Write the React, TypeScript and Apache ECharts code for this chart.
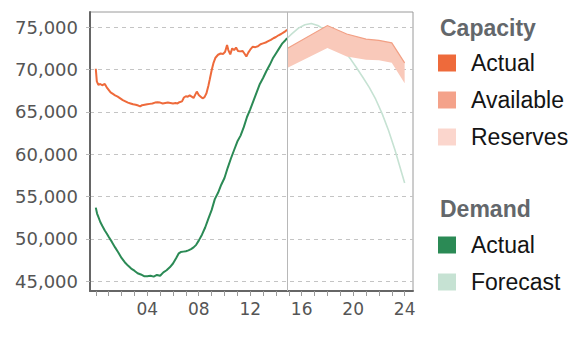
import React, { useEffect, useRef } from "react";
import * as echarts from "echarts";

// Capacity (actual), hours of day and MW
const capHours = [0.0, 0.08, 0.2, 0.35, 0.5, 0.7, 0.85, 1.0, 1.15, 1.3, 1.5, 1.7, 1.9, 2.1, 2.3, 2.5, 2.7, 2.9, 3.1, 3.3, 3.45, 3.6, 3.8, 4.0, 4.2, 4.4, 4.6, 4.8, 5.0, 5.2, 5.4, 5.6, 5.8, 6.0, 6.2, 6.35, 6.5, 6.7, 6.85, 7.0, 7.15, 7.3, 7.45, 7.6, 7.75, 7.85, 8.0, 8.15, 8.3, 8.45, 8.6, 8.75, 8.85, 9.0, 9.15, 9.3, 9.5, 9.7, 9.9, 10.05, 10.2, 10.3, 10.45, 10.6, 10.75, 10.9, 11.05, 11.2, 11.4, 11.55, 11.7, 11.85, 12.0, 12.2, 12.4, 12.6, 12.8, 13.0, 13.2, 13.4, 13.6, 13.8, 14.0, 14.2, 14.4, 14.6, 14.75, 14.87];
const capValues = [70100, 68600, 68200, 68300, 68150, 68300, 67900, 67600, 67300, 67150, 66950, 66800, 66600, 66400, 66250, 66100, 66000, 65900, 65850, 65750, 65650, 65800, 65850, 65900, 65950, 66000, 66100, 66150, 66100, 66000, 66050, 66100, 66050, 66000, 66050, 66000, 66150, 66250, 66700, 66850, 66800, 66950, 66800, 66650, 67100, 67400, 67000, 66800, 66600, 66750, 67200, 68100, 68800, 69900, 70800, 71400, 71750, 71900, 71850, 72100, 72900, 72300, 71800, 72500, 72300, 72600, 72200, 72150, 72200, 71900, 71550, 72000, 72350, 72700, 72650, 72750, 73000, 73100, 73200, 73350, 73500, 73700, 73850, 74050, 74200, 74400, 74550, 74700];

// Demand (actual)
const demandHours = [0.0, 0.1, 0.2, 0.35, 0.5, 0.7, 0.85, 1.0, 1.25, 1.5, 1.75, 2.0, 2.25, 2.5, 2.75, 3.0, 3.25, 3.5, 3.75, 4.0, 4.25, 4.5, 4.75, 5.0, 5.25, 5.5, 5.75, 6.0, 6.25, 6.45, 6.6, 6.8, 7.0, 7.2, 7.4, 7.6, 7.8, 8.0, 8.25, 8.5, 8.75, 9.0, 9.25, 9.5, 9.75, 10.0, 10.25, 10.5, 10.75, 11.0, 11.25, 11.5, 11.75, 12.0, 12.25, 12.5, 12.75, 13.0, 13.25, 13.5, 13.75, 14.0, 14.25, 14.5, 14.75, 14.87];
const demandValues = [53700, 53000, 52600, 52000, 51550, 51000, 50650, 50250, 49650, 49000, 48400, 47750, 47250, 46850, 46500, 46250, 45950, 45800, 45600, 45600, 45650, 45550, 45750, 45650, 46050, 46300, 46650, 47100, 47750, 48300, 48450, 48500, 48550, 48650, 48800, 49000, 49300, 49800, 50500, 51350, 52400, 53400, 54700, 55450, 56400, 57200, 58400, 59500, 60500, 61500, 62200, 63200, 64400, 65300, 66300, 67300, 68300, 69000, 69800, 70500, 71300, 71900, 72500, 73100, 73500, 73700];

// Demand (forecast)
const forecastHours = [14.87, 15.25, 15.75, 16.25, 16.75, 17.25, 17.75, 18.25, 18.75, 19.25, 19.75, 20.25, 20.75, 21.25, 21.75, 22.25, 22.75, 23.25, 23.75, 24.0];
const forecastValues = [73700, 74250, 74900, 75300, 75450, 75200, 74750, 74000, 73200, 72350, 71350, 70250, 69100, 67900, 66500, 64800, 62800, 60500, 57900, 56600];

// Capacity forecast band (available top / reserves bottom)
const bandHours = [14.87, 18, 19.5, 21, 22, 23, 24];
const bandTop = [72500, 75200, 74200, 73600, 73450, 73150, 70800];
const bandBottom = [70200, 72550, 71550, 71150, 71100, 70800, 68400];

const nowHour = 14.87;
const xTickHours = [0, 1, 2, 3, 4, 5, 6, 7, 8, 9, 10, 11, 12, 13, 14, 15, 16, 17, 18, 19, 20, 21, 22, 23, 24];
const xLabelHours = [4, 8, 12, 16, 20, 24];
const yTicks = [45000, 50000, 55000, 60000, 65000, 70000, 75000];

const capacityLegend = ["Actual", "Available", "Reserves"];
const demandLegend = ["Actual", "Forecast"];
const capacityTitle = "Capacity";
const demandTitle = "Demand";

const C_CAP = "#ee6a3b";
const C_AVAIL = "#f4a28a";
const C_RES = "#fbd6cd";
const C_DEM = "#2b8a55";
const C_FC = "#c6e2d3";
const C_BAND = "#f9c9ba";

const zip = (xs: number[], ys: number[]) => xs.map((x, i) => [x, ys[i]]);

export default function App() {
  const ref = useRef<HTMLDivElement>(null);
  useEffect(() => {
    if (!ref.current) return;
    const chart = echarts.init(ref.current, undefined, { renderer: "svg" });

    const legendEls: any[] = [];
    const lx = 438;
    const tx = 471;
    const addHeader = (text: string, y: number) =>
      legendEls.push({
        type: "text",
        style: {
          x: 440, y, text, fill: "#63676b", fontFamily: "Liberation Sans, Arial, sans-serif",
          fontSize: 23, fontWeight: "bold", verticalAlign: "middle", align: "left",
        },
      });
    const addItem = (text: string, color: string, y: number) => {
      legendEls.push({ type: "rect", shape: { x: lx, y: y - 8.5, width: 18, height: 17 }, style: { fill: color } });
      legendEls.push({
        type: "text",
        style: {
          x: tx, y, text, fill: "#141414", fontFamily: "Liberation Sans, Arial, sans-serif",
          fontSize: 23, verticalAlign: "middle", align: "left",
        },
      });
    };
    addHeader(capacityTitle, 28);
    const capColors = [C_CAP, C_AVAIL, C_RES];
    capacityLegend.forEach((t, i) => addItem(t, capColors[i], 63 + i * 37));
    addHeader(demandTitle, 209);
    const demColors = [C_DEM, C_FC];
    demandLegend.forEach((t, i) => addItem(t, demColors[i], 245 + i * 37));

    const bandData = bandHours.map((h, i) => [h, bandBottom[i], bandTop[i]]);

    const option: any = {
      animation: false,
      backgroundColor: "#ffffff",
      grid: { left: 90, right: 162, top: 12, bottom: 66, show: true, borderColor: "#9a9a9a", borderWidth: 1 },
      xAxis: {
        type: "value",
        min: -0.45,
        max: 24.65,
        axisLine: { show: true, onZero: false, lineStyle: { color: "#666", width: 2 } },
        axisTick: { show: true, length: 5, customValues: xTickHours, lineStyle: { color: "#999" } },
        axisLabel: {
          customValues: xLabelHours,
          formatter: (v: number) => String(v).padStart(2, "0"),
          color: "#555", fontSize: 17, fontFamily: "DejaVu Sans", margin: 9,
        },
        splitLine: { show: false },
      },
      yAxis: {
        type: "value",
        min: 43850,
        max: 76800,
        axisLine: { show: true, onZero: false, lineStyle: { color: "#666", width: 2 } },
        axisTick: { show: true, length: 4, customValues: yTicks, lineStyle: { color: "#bbb" } },
        axisLabel: {
          customValues: yTicks,
          formatter: (v: number) => v.toLocaleString("en-US"),
          color: "#555", fontSize: 18, fontFamily: "DejaVu Sans", margin: 12,
        },
        splitLine: { show: true, lineStyle: { color: "#c4c4c4", type: [4, 4], width: 1 } },
      },
      series: [
        {
          type: "line", z: 1, data: zip(forecastHours, forecastValues), symbol: "none", silent: true,
          lineStyle: { color: C_FC, width: 1.6 },
        },
        {
          type: "custom",
          z: 3,
          silent: true,
          data: bandData,
          encode: { x: 0, y: [1, 2] },
          renderItem: (params: any, api: any) => {
            if (params.dataIndex !== 0) return null;
            const tops = bandData.map((d) => api.coord([d[0], d[2]]));
            const bottoms = bandData.map((d) => api.coord([d[0], d[1]])).reverse();
            return {
              type: "group",
              children: [
                { type: "polygon", shape: { points: tops.concat(bottoms) }, style: { fill: C_BAND } },
                { type: "polyline", shape: { points: tops }, style: { fill: null, stroke: "#f2a085", lineWidth: 1.2 } },
              ],
            };
          },
        },
        {
          type: "line", z: 4, data: zip(capHours, capValues), symbol: "none", silent: true,
          lineStyle: { color: C_CAP, width: 2 },
          markLine: {
            silent: true, symbol: "none", label: { show: false },
            lineStyle: { color: "#b8b8b8", type: "solid", width: 1 },
            data: [{ xAxis: nowHour }],
          },
        },
        {
          type: "line", z: 4, data: zip(demandHours, demandValues), symbol: "none", silent: true,
          lineStyle: { color: C_DEM, width: 2 },
        },
      ],
      graphic: legendEls,
    };
    chart.setOption(option);
    return () => chart.dispose();
  }, []);

  return (
    <div
      ref={ref}
      style={{ position: "fixed", left: 0, top: 0, width: 575, height: 357, background: "#fff" }}
    />
  );
}
